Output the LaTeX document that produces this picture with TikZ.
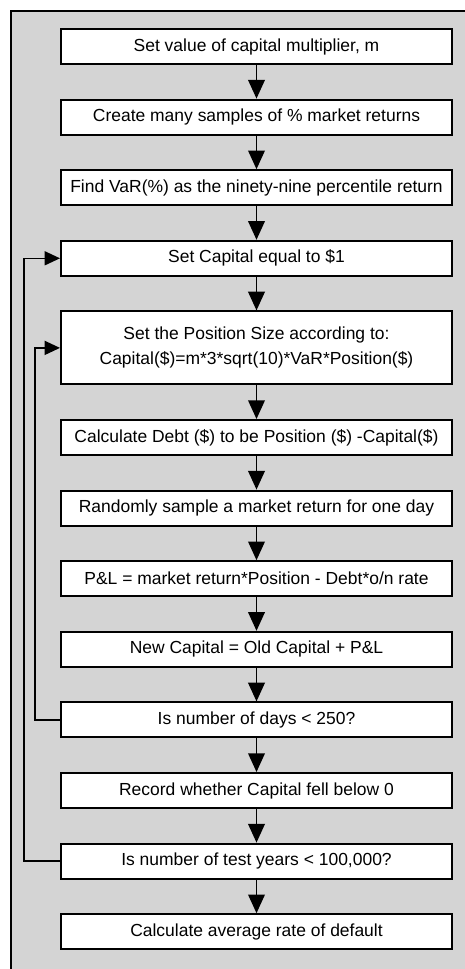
\documentclass[tikz,border=0pt]{standalone}
\usepackage{fontspec}
\setmainfont{Liberation Sans}
\usetikzlibrary{positioning,arrows.meta}
\definecolor{panelgray}{RGB}{212,212,212}

\begin{document}
\begin{tikzpicture}[
  x=0.75pt, y=-0.75pt,
  block/.style={rectangle, draw, line width=1.5pt, fill=white, minimum width=293.25pt, minimum height=26.25pt, inner sep=2pt, align=center, font=\fontsize{13.1}{18.75}\selectfont},
  flow/.style={line width=1.1pt, -{Triangle[length=14pt,width=12.5pt]}},
  back/.style={line width=1.1pt, -{Triangle[length=11.5pt,width=10.5pt]}},
  node distance=25.2pt
]
\useasboundingbox (0,0) rectangle (464,969);
\draw[line width=1.5pt, fill=panelgray] (11,11) rectangle (480,985);

\node[block] (mult) at (256.5,46.5) {Set value of capital multiplier, m};
\node[block, below=of mult] (samples) {Create many samples of \% market returns};
\node[block, below=of samples] (var) {Find VaR(\%) as the ninety-nine percentile return};
\node[block, below=of var] (capital) {Set Capital equal to \$1};
\node[block, below=of capital, minimum height=54.75pt] (position) {Set the Position Size according to:\\Capital(\$)=m*3*sqrt(10)*VaR*Position(\$)};
\node[block, below=of position] (debt) {Calculate Debt (\$) to be Position (\$) -Capital(\$)};
\node[block, below=of debt] (draw) {Randomly sample a market return for one day};
\node[block, below=of draw] (pnl) {P\&L = market return*Position - Debt*o/n rate};
\node[block, below=of pnl] (newcap) {New Capital = Old Capital + P\&L};
\node[block, below=of newcap] (days) {Is number of days < 250?};
\node[block, below=of days] (record) {Record whether Capital fell below 0};
\node[block, below=of record] (years) {Is number of test years < 100,000?};
\node[block, below=of years] (average) {Calculate average rate of default};

% main chain
\foreach \a/\b in {mult/samples, samples/var, var/capital, capital/position, position/debt, debt/draw, draw/pnl, pnl/newcap, newcap/days, days/record, record/years, years/average}
  \draw[flow] (\a) -- (\b);

% loops back
\draw[back] (years.west) -- ++(-36,0) |- (capital.west);
\draw[back] (days.west) -- ++(-25,0) |- (position.west);
\end{tikzpicture}
\end{document}
